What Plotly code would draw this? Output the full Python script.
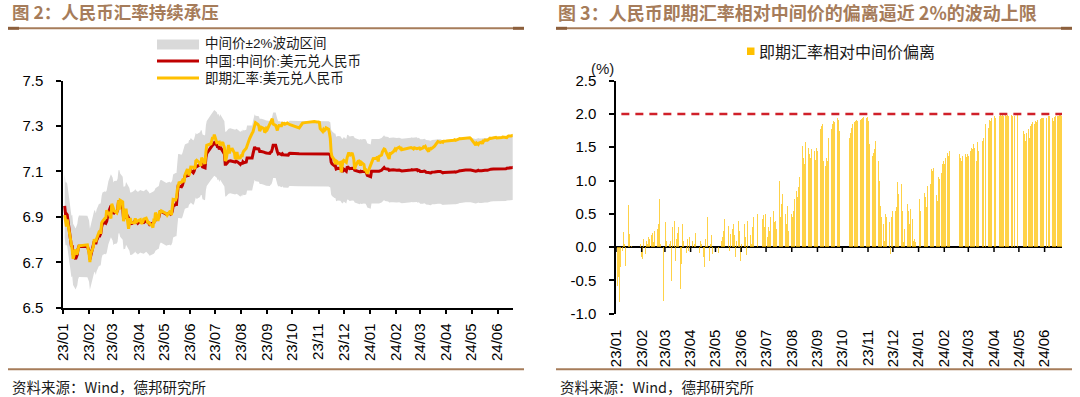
import pandas as pd
import plotly.graph_objects as go

# ---------------- data ----------------
holidays = [
    "2023-01-02", "2023-01-23", "2023-01-24", "2023-01-25", "2023-01-26", "2023-01-27",
    "2023-04-05", "2023-05-01", "2023-05-02", "2023-05-03", "2023-06-22", "2023-06-23",
    "2023-09-29", "2023-10-02", "2023-10-03", "2023-10-04", "2023-10-05", "2023-10-06",
    "2024-01-01", "2024-02-09", "2024-02-12", "2024-02-13", "2024-02-14", "2024-02-15",
    "2024-02-16", "2024-04-04", "2024-04-05", "2024-05-01", "2024-05-02", "2024-05-03",
    "2024-06-10",
]

# 中国:中间价:美元兑人民币, daily, grouped by month (2023-01 ... 2024-06)
mid_by_month = [
    [6.948, 6.913, 6.914, 6.909, 6.827, 6.776, 6.770, 6.774, 6.735, 6.714, 6.722, 6.734, 6.760, 6.771, 6.770, 6.760],
    [6.749, 6.713, 6.730, 6.773, 6.790, 6.794, 6.780, 6.796, 6.822, 6.819, 6.827, 6.856, 6.870, 6.875, 6.872, 6.880, 6.898, 6.918, 6.949, 6.940],
    [6.935, 6.913, 6.919, 6.921, 6.930, 6.966, 6.967, 6.952, 6.938, 6.895, 6.897, 6.897, 6.915, 6.890, 6.889, 6.870, 6.871, 6.871, 6.879, 6.885, 6.877, 6.877, 6.872],
    [6.881, 6.878, 6.874, 6.875, 6.884, 6.881, 6.877, 6.872, 6.866, 6.871, 6.873, 6.875, 6.880, 6.888, 6.896, 6.898, 6.915, 6.924, 6.924],
    [6.911, 6.913, 6.916, 6.912, 6.915, 6.924, 6.948, 6.954, 6.954, 6.997, 7.036, 7.036, 7.033, 7.039, 7.054, 7.063, 7.077, 7.082, 7.082, 7.097],
    [7.097, 7.105, 7.094, 7.101, 7.120, 7.128, 7.121, 7.127, 7.130, 7.139, 7.139, 7.120, 7.116, 7.160, 7.179, 7.206, 7.210, 7.216, 7.221, 7.226],
    [7.216, 7.205, 7.210, 7.197, 7.208, 7.189, 7.189, 7.177, 7.132, 7.132, 7.145, 7.147, 7.147, 7.146, 7.145, 7.145, 7.141, 7.145, 7.141, 7.141, 7.131],
    [7.138, 7.132, 7.142, 7.138, 7.141, 7.159, 7.159, 7.160, 7.159, 7.159, 7.177, 7.199, 7.208, 7.201, 7.199, 7.199, 7.188, 7.189, 7.188, 7.185, 7.185, 7.182, 7.181],
    [7.181, 7.179, 7.185, 7.187, 7.199, 7.215, 7.215, 7.195, 7.187, 7.177, 7.179, 7.174, 7.178, 7.173, 7.173, 7.173, 7.173, 7.172, 7.178, 7.180],
    [7.178, 7.178, 7.179, 7.179, 7.180, 7.180, 7.179, 7.178, 7.179, 7.179, 7.179, 7.179, 7.179, 7.180, 7.179, 7.178, 7.178],
    [7.178, 7.180, 7.177, 7.177, 7.177, 7.178, 7.177, 7.177, 7.177, 7.175, 7.173, 7.141, 7.134, 7.125, 7.125, 7.111, 7.112, 7.114, 7.113, 7.103, 7.102, 7.102],
    [7.110, 7.101, 7.118, 7.119, 7.114, 7.112, 7.114, 7.113, 7.113, 7.105, 7.104, 7.101, 7.100, 7.098, 7.101, 7.099, 7.101, 7.101, 7.100, 7.093, 7.083],
    [7.077, 7.101, 7.101, 7.101, 7.100, 7.103, 7.103, 7.101, 7.101, 7.105, 7.108, 7.114, 7.117, 7.112, 7.109, 7.110, 7.105, 7.104, 7.106, 7.107, 7.106, 7.106],
    [7.105, 7.105, 7.106, 7.104, 7.104, 7.102, 7.106, 7.108, 7.106, 7.107, 7.106, 7.108, 7.104, 7.106, 7.104],
    [7.100, 7.100, 7.102, 7.102, 7.100, 7.096, 7.095, 7.093, 7.093, 7.094, 7.097, 7.098, 7.099, 7.098, 7.100, 7.100, 7.100, 7.098, 7.095, 7.094, 7.095],
    [7.095, 7.094, 7.094, 7.095, 7.096, 7.097, 7.098, 7.097, 7.100, 7.103, 7.103, 7.103, 7.104, 7.104, 7.105, 7.106, 7.106, 7.106, 7.107, 7.106],
    [7.101, 7.101, 7.103, 7.105, 7.103, 7.103, 7.104, 7.105, 7.103, 7.105, 7.105, 7.106, 7.110, 7.110, 7.110, 7.111, 7.111, 7.110, 7.111, 7.109],
    [7.109, 7.109, 7.109, 7.109, 7.111, 7.112, 7.114, 7.114, 7.115, 7.116, 7.117, 7.117, 7.119, 7.120],
]

# 即期汇率相对中间价偏离 (%), daily, grouped by month
dev_by_month = [
    [-0.58, -0.45, -0.82, -0.30, -0.05, 0.23, 0.05, -0.28, -0.30, 0.63, 0.20, 0.08, -0.05, 0.02, 0.10, 0.05],
    [-0.15, -0.18, 0.12, -0.10, 0.10, 0.05, 0.15, 0.12, 0.18, 0.22, 0.08, 0.25, 0.15, 0.28, 0.35, 0.72, 0.20, 0.05, -0.80, 0.25],
    [0.15, 0.38, 0.10, -0.05, 0.05, 0.10, -0.50, 0.30, 0.40, -0.20, 0.12, 0.22, 0.30, -0.62, -0.25, 0.35, 0.10, 0.05, -0.08, 0.12, -0.05, 0.08, 0.15],
    [0.10, -0.12, 0.05, 0.22, 0.15, 0.08, -0.08, 0.10, 0.05, -0.15, -0.30, 0.12, 0.02, 0.45, -0.20, 0.05, 0.18, -0.10, 0.04],
    [0.05, -0.08, 0.10, 0.15, -0.10, 0.25, 0.42, 0.30, 0.45, 0.32, -0.05, 0.20, 0.28, 0.35, 0.18, -0.15, 0.10, 0.40, 0.25, -0.20],
    [0.05, 0.20, 0.35, 0.15, -0.12, 0.25, 0.40, 0.18, 0.05, -0.20, 0.30, 0.45, 0.25, 0.35, 0.50, 0.22, 0.42, 0.48, 0.30, 0.50],
    [0.15, 0.30, 0.25, 0.45, 0.10, 0.55, 0.38, 0.40, 0.20, 0.28, 1.00, 0.45, 0.70, 0.65, 0.80, 0.50, 0.18, 0.35, 0.62, 0.25, 0.40],
    [0.50, 0.45, 0.55, 0.72, 0.85, 0.75, 0.90, 1.05, 1.20, 1.52, 1.35, 1.25, 1.45, 1.58, 1.50, 1.40, 1.25, 1.35, 1.48, 1.45, 1.20, 1.32, 1.50],
    [1.45, 1.80, 1.78, 1.82, 1.85, 1.30, 1.22, 1.35, 1.30, 1.65, 1.72, 1.78, 1.85, 1.90, 1.93, 1.88, 1.95, 1.92, 1.80, 1.75],
    [1.58, 1.65, 1.72, 1.80, 1.85, 1.88, 1.90, 1.92, 1.90, 1.93, 1.92, 1.93, 1.94, 1.95, 1.96, 1.95, 1.96],
    [1.95, 1.90, 1.55, 1.38, 1.50, 1.42, 1.48, 1.60, 1.52, 1.30, 1.00, 0.62, 0.45, 0.35, 0.10, 0.50, 0.45, 0.30, 0.38, -0.10, 0.45, 0.60],
    [0.55, 0.55, 0.60, 0.70, 0.98, 0.80, 0.95, 0.78, 0.55, 0.08, 0.28, 0.62, 0.65, 0.55, 0.35, 0.58, 0.42, 0.10, 0.12, 0.08, 0.10],
    [0.72, 0.55, 0.65, 0.78, 0.82, 0.75, 0.88, 0.60, 0.92, 0.95, 1.10, 1.18, 1.15, 1.20, 0.92, 0.78, 0.70, 1.05, 1.02, 1.12, 1.25, 1.30],
    [1.25, 1.35, 1.42, 1.38, 1.45, 1.32, 1.40, 1.32, 1.35, 1.30, 1.38, 1.30, 1.40, 1.36, 1.40],
    [1.38, 1.45, 1.50, 1.48, 1.55, 1.50, 1.30, 1.58, 1.45, 1.52, 1.48, 1.60, 1.65, 1.70, 1.72, 1.85, 1.80, 1.88, 1.92, 1.90, 1.95],
    [1.96, 1.98, 1.95, 1.97, 1.99, 1.98, 1.99, 1.97, 1.99, 1.98, 1.99, 1.98, 1.97, 1.99, 1.98, 1.98, 1.96, 1.97, 1.99, 1.96],
    [1.62, 1.75, 1.70, 1.60, 1.72, 1.78, 1.65, 1.82, 1.85, 1.88, 1.86, 1.90, 1.88, 1.92, 1.90, 1.93, 1.95, 1.94, 1.96, 1.95],
    [1.95, 1.96, 1.94, 1.97, 1.98, 1.95, 1.90, 1.96, 1.98, 1.97, 1.98, 1.99, 1.99, 1.98],
]

band_pct = 2.0          # 中间价±2%波动区间
limit_line = 2.0        # 2% 波动上限
y1_ticks = [6.5, 6.7, 6.9, 7.1, 7.3, 7.5]
y2_ticks = [-1.0, -0.5, 0.0, 0.5, 1.0, 1.5, 2.0, 2.5]
y2_ticktext = ["-1.0", "-0.5", "0.0", "0.5", "1.0", "1.5", "2.0", "2.5"]

# ---------------- assemble daily series ----------------
all_days = pd.bdate_range("2023-01-01", "2024-06-21")
hol = set(pd.to_datetime(holidays))
trade_days = [d for d in all_days if d not in hol]
periods = pd.period_range("2023-01", "2024-06", freq="M")

dates, mid, dev = [], [], []
for p, mv, dv in zip(periods, mid_by_month, dev_by_month):
    days = [d for d in trade_days if d.to_period("M") == p]
    n = min(len(days), len(mv), len(dv))
    dates += days[:n]
    mid += mv[:n]
    dev += dv[:n]

spot = [m * (1 + d / 100.0) for m, d in zip(mid, dev)]
upper = [m * (1 + band_pct / 100.0) for m in mid]
lower = [m * (1 - band_pct / 100.0) for m in mid]
month_starts = [p.start_time for p in periods]

# ---------------- geometry helpers ----------------
W, H = 1080, 397
def px(x):
    return x / W
def py(y):
    return 1 - y / H

NUM_FONT = "Liberation Sans, Arial, sans-serif"
CJK_FONT = "Noto Sans CJK SC, sans-serif"
MIX_FONT = "Liberation Sans, Noto Sans CJK SC, sans-serif"
BROWN = "#A67C5A"
BROWN_DARK = "#8C5F3C"

fig = go.Figure()

# band
fig.add_trace(go.Scatter(x=dates, y=lower, mode="lines", line=dict(width=0, color="#D9D9D9"),
                         xaxis="x", yaxis="y", showlegend=False, hoverinfo="skip"))
fig.add_trace(go.Scatter(x=dates, y=upper, mode="lines", line=dict(width=0, color="#D9D9D9"),
                         fill="tonexty", fillcolor="#D9D9D9",
                         xaxis="x", yaxis="y", showlegend=False, hoverinfo="skip"))
fig.add_trace(go.Scatter(x=dates, y=mid, mode="lines", line=dict(width=3, color="#C00000"),
                         xaxis="x", yaxis="y", showlegend=False))
fig.add_trace(go.Scatter(x=dates, y=spot, mode="lines", line=dict(width=3, color="#FFC000"),
                         xaxis="x", yaxis="y", showlegend=False))

# deviation bars
fig.add_trace(go.Bar(x=dates, y=dev, marker=dict(color="rgba(255,192,0,0.72)", line=dict(width=0)),
                     width=86400000 * 0.95, xaxis="x2", yaxis="y2", showlegend=False))

axis_common = dict(showgrid=False, zeroline=False, linecolor="black", linewidth=1.5,
                   tickcolor="black", tickwidth=1.5, automargin=False)

fig.update_layout(
    template="none",
    width=W, height=H, autosize=False,
    margin=dict(l=0, r=0, t=0, b=0, pad=0, autoexpand=False),
    paper_bgcolor="white", plot_bgcolor="white",
    showlegend=False, bargap=0,
    xaxis=dict(domain=[px(63), px(512.7)], anchor="y", type="date",
               range=["2023-01-01", "2024-06-19"], tick0="2023-01-01", dtick="M1",
               tickformat="%y/%m", tickangle=-90, ticks="outside", ticklen=5,
               showline=True, ticklabelstandoff=3,
               tickfont=dict(family=NUM_FONT, size=15, color="black"), **axis_common),
    yaxis=dict(domain=[py(307.7), py(80.6)], anchor="x", range=[6.5, 7.5],
               tickvals=y1_ticks, tickformat=".1f", ticks="outside", ticklen=5,
               showline=True, ticklabelstandoff=10,
               tickfont=dict(family=NUM_FONT, size=15, color="black"), **axis_common),
    xaxis2=dict(domain=[px(616), px(1062)], anchor="y2", type="date",
                range=["2023-01-01", "2024-06-22"], tick0="2023-01-01", dtick="M1",
                tickformat="%y/%m", tickangle=-90, ticks="", showline=False,
                ticklabelstandoff=12, showgrid=False, zeroline=False, automargin=False,
                tickfont=dict(family=NUM_FONT, size=15, color="black")),
    yaxis2=dict(domain=[py(313.6), py(80.7)], anchor="x2", range=[-1.0, 2.5],
                tickvals=y2_ticks, ticktext=y2_ticktext, ticks="outside", ticklen=5,
                showline=True, showgrid=False, zeroline=True, zerolinecolor="black",
                zerolinewidth=1.5, linecolor="black", linewidth=1.5, tickcolor="black",
                tickwidth=1.5, ticklabelstandoff=10, automargin=False,
                tickfont=dict(family=NUM_FONT, size=15, color="black")),
)

shapes = []
# month tick marks on the zero line of the right chart
for ms in month_starts:
    shapes.append(dict(type="line", xref="x2", yref="y2", x0=ms, x1=ms, y0=0, y1=-0.075,
                       line=dict(color="black", width=1.5)))
# 2% limit dashed line
shapes.append(dict(type="line", xref="x2 domain", yref="y2", x0=0.012, x1=1.0,
                   y0=limit_line, y1=limit_line,
                   line=dict(color="#D0202A", width=2.5, dash="8px,6px")))
# header / footer rules
for (x0, x1) in [(8, 524), (556, 1072)]:
    shapes.append(dict(type="line", xref="paper", yref="paper", x0=px(x0), x1=px(x1),
                       y0=py(28.3), y1=py(28.3), line=dict(color=BROWN, width=2)))
    shapes.append(dict(type="line", xref="paper", yref="paper", x0=px(x0), x1=px(x0 + 11),
                       y0=py(28.3), y1=py(28.3), line=dict(color=BROWN_DARK, width=3)))
    shapes.append(dict(type="line", xref="paper", yref="paper", x0=px(x1 - 11), x1=px(x1),
                       y0=py(28.3), y1=py(28.3), line=dict(color=BROWN_DARK, width=3)))
    shapes.append(dict(type="line", xref="paper", yref="paper", x0=px(x0), x1=px(x1),
                       y0=py(369.3), y1=py(369.3), line=dict(color=BROWN, width=2)))
# legend swatches (left)
shapes.append(dict(type="rect", xref="paper", yref="paper", x0=px(157), x1=px(199),
                   y0=py(49.5), y1=py(39.5), fillcolor="#D9D9D9", line=dict(width=0)))
shapes.append(dict(type="line", xref="paper", yref="paper", x0=px(157), x1=px(199),
                   y0=py(61), y1=py(61), line=dict(color="#C00000", width=3)))
shapes.append(dict(type="line", xref="paper", yref="paper", x0=px(157), x1=px(199),
                   y0=py(78), y1=py(78), line=dict(color="#FFC000", width=3)))
# legend swatch (right)
shapes.append(dict(type="rect", xref="paper", yref="paper", x0=px(747), x1=px(754.5),
                   y0=py(55), y1=py(47.5), fillcolor="#FFC000", line=dict(width=0)))
fig.update_layout(shapes=shapes)

def txt(x, y, s, size, color="#1a1a1a", family=CJK_FONT, xanchor="left", align="left"):
    return dict(x=px(x), y=py(y), xref="paper", yref="paper", text=s, showarrow=False,
                xanchor=xanchor, yanchor="middle", align=align,
                font=dict(family=family, size=size, color=color))

legend_lines = ["中间价±2%波动区间", "中国:中间价:美元兑人民币", "即期汇率:美元兑人民币"]

annotations = [
    txt(10, 12, "<b>图 2：人民币汇率持续承压</b>", 17.5, color=BROWN),
    txt(556, 12, "<b>图 3：人民币即期汇率相对中间价的偏离逼近 2%的波动上限</b>", 18, color=BROWN),
    txt(203, 61.2, "<br>".join(legend_lines), 13.5, family=MIX_FONT),
    txt(757, 51, "即期汇率相对中间价偏离", 16),
    txt(602, 68, "(%)", 15, family=NUM_FONT, xanchor="center"),
    txt(10, 386.5, "资料来源：Wind，德邦研究所", 14.5),
    txt(558, 386.5, "资料来源：Wind，德邦研究所", 14.5),
]
fig.update_layout(annotations=annotations)

fig.write_html(
    "out.html",
    config={"displayModeBar": False},
    post_script="document.body.style.margin='0px';document.body.style.padding='0px';",
)
